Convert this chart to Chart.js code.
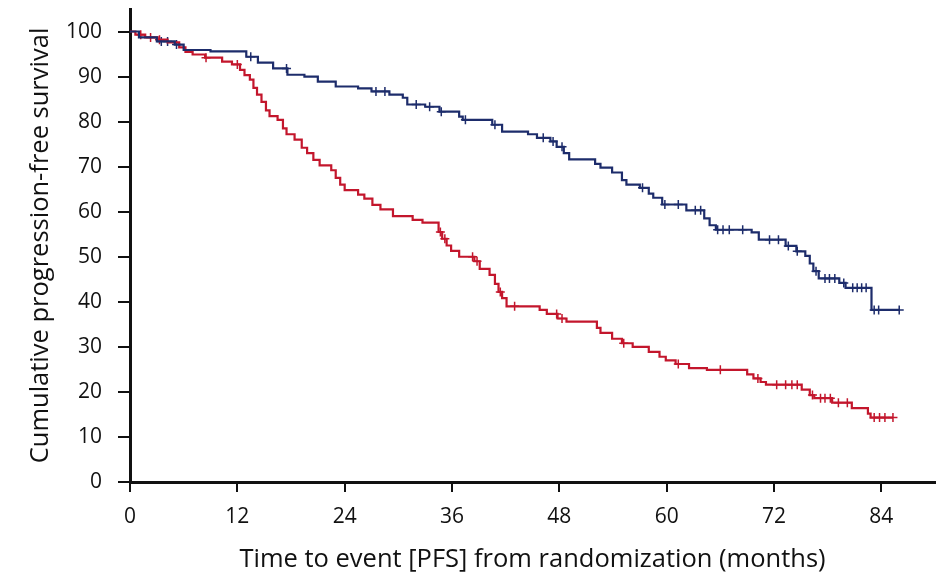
<!DOCTYPE html>
<html>
<head>
<meta charset="utf-8">
<script src="https://cdn.jsdelivr.net/npm/chart.js@4"></script>
<style>
  html, body { margin: 0; padding: 0; background: #fff; }
</style>
</head>
<body>
<canvas id="km" width="941" height="584"></canvas>
<script>
// Kaplan-Meier steps: time of drop (months) and survival after the drop (%)
const blueMonths = [0, 1, 3, 5, 6, 9, 13, 14.3, 16, 17.6, 19.5, 21, 23, 25.5, 27, 29, 30.5, 31, 33, 34.6, 36.8, 37.2, 40.5, 41.6, 44.5, 45.5, 47, 47.7, 48.5, 49.1, 52, 52.6, 53.9, 55, 55.5, 57, 58, 58.5, 59.5, 62.2, 64.2, 64.8, 65.5, 69.5, 70.3, 73.3, 74.5, 75.5, 76, 76.4, 77, 79.3, 80, 82.9, 86];
const blueSurv = [100, 98.7, 97.8, 97.1, 95.9, 95.6, 94.4, 93.1, 91.8, 90.4, 90.0, 88.9, 87.8, 87.4, 86.7, 86.0, 85.3, 83.8, 83.3, 82.2, 81.1, 80.4, 79.3, 77.8, 77.2, 76.4, 75.6, 74.4, 73.0, 71.6, 70.6, 69.8, 68.7, 67.0, 66.0, 65.3, 64.0, 63.1, 61.6, 60.3, 58.5, 57.0, 56.0, 55.4, 53.8, 52.4, 51.2, 50.2, 48.5, 46.8, 45.2, 44.2, 43.1, 38.2, 38.2];

const redMonths = [0, 0.6, 1.7, 3.1, 4.2, 5.5, 6.2, 7, 8.4, 10.3, 11.4, 12.3, 12.8, 13.4, 13.8, 14.2, 14.7, 15.2, 15.6, 16.5, 17.1, 17.5, 18.4, 19.2, 19.8, 20.5, 21.2, 22.5, 23, 23.5, 24, 25.5, 26.2, 27.1, 28, 29.4, 31.6, 32.7, 34.5, 34.9, 35.4, 35.9, 36.8, 38.5, 39.1, 40.2, 40.8, 41.2, 41.6, 42.1, 45.8, 46.6, 47.8, 48.8, 52.2, 52.6, 53.9, 55, 56.2, 58, 59.2, 59.9, 61, 62.5, 64.5, 69, 69.7, 70.5, 71.1, 75.1, 76, 76.5, 78.5, 80.7, 82.5, 82.8, 85.3];
const redSurv = [100, 99.3, 98.7, 98.2, 97.6, 96.5, 95.5, 94.9, 94.2, 93.3, 92.7, 91.5, 90.3, 89.3, 87.5, 86.0, 84.4, 82.5, 81.2, 80.4, 78.5, 77.2, 76.0, 74.2, 73.0, 71.5, 70.3, 69.2, 67.5, 66.0, 64.8, 63.8, 62.9, 61.5, 60.5, 59.0, 58.2, 57.6, 55.5, 54.0, 52.5, 51.3, 50.0, 49.0, 47.3, 46.0, 44.0, 42.2, 40.8, 39.0, 38.2, 37.3, 36.3, 35.6, 34.2, 33.1, 31.8, 30.8, 30.0, 28.9, 27.8, 27.0, 26.2, 25.3, 24.9, 23.9, 23.0, 22.2, 21.6, 20.5, 19.3, 18.6, 17.6, 16.4, 15.2, 14.3, 14.3];

// censored observations (months)
const blueCensored = [3.5, 4.2, 5.2, 13.5, 17.5, 27.5, 28.5, 32, 33.5, 34.8, 37.5, 40.8, 46.2, 47.3, 48.3, 57.3, 59.8, 61.3, 63.2, 63.8, 65.7, 66.3, 67, 68.5, 71.5, 72.5, 73.6, 74.6, 76.7, 77.7, 78.2, 78.8, 79.8, 80.8, 81.3, 81.8, 82.3, 83.2, 83.7, 86];
const redCensored = [1.2, 2.3, 3.3, 8.5, 12, 34.7, 35.2, 38.3, 38.8, 41.4, 43, 47.7, 48.3, 55.2, 61.3, 66, 70.2, 72.3, 73.3, 74, 74.6, 76.3, 77.2, 77.7, 78.3, 79.2, 80.2, 83.2, 83.8, 84.4, 85.3];

const xTicks = { min: 0, max: 90, step: 12 };
const yTicks = { min: 0, max: 105, step: 10 };

const BLUE = '#1d2c6b';
const RED = '#c3162c';

function toPoints(xs, ys) {
    return xs.map((x, i) => ({ x: x, y: ys[i] }));
}

// survival level of a step curve at time t
function levelAt(xs, ys, t) {
    let v = ys[0];
    for (let i = 0; i < xs.length; i++) {
        if (xs[i] <= t) v = ys[i];
    }
    return v;
}

function censorPoints(times, xs, ys) {
    return times.map(t => ({ x: t, y: levelAt(xs, ys, t) }));
}

const FONT = "'Open Sans', 'DejaVu Sans', sans-serif";

new Chart(document.getElementById('km'), {
    type: 'line',
    data: {
        datasets: [
            {
                label: 'Blue arm',
                data: toPoints(blueMonths, blueSurv),
                borderColor: BLUE,
                borderWidth: 2.2,
                stepped: true,
                pointRadius: 0,
                fill: false
            },
            {
                label: 'Red arm',
                data: toPoints(redMonths, redSurv),
                borderColor: RED,
                borderWidth: 2.2,
                stepped: true,
                pointRadius: 0,
                fill: false
            },
            {
                label: 'Blue censored',
                data: censorPoints(blueCensored, blueMonths, blueSurv),
                showLine: false,
                pointStyle: 'cross',
                pointRadius: 4.5,
                borderColor: BLUE,
                borderWidth: 1.5
            },
            {
                label: 'Red censored',
                data: censorPoints(redCensored, redMonths, redSurv),
                showLine: false,
                pointStyle: 'cross',
                pointRadius: 4.5,
                borderColor: RED,
                borderWidth: 1.5
            }
        ]
    },
    options: {
        responsive: false,
        animation: false,
        devicePixelRatio: 1,
        layout: {
            padding: { top: 9, right: 1, left: 0, bottom: 0 }
        },
        plugins: {
            legend: { display: false },
            tooltip: { enabled: false }
        },
        scales: {
            x: {
                type: 'linear',
                min: xTicks.min,
                max: xTicks.max,
                afterFit: (scale) => {
                    scale.height = 102;
                    scale.paddingLeft = 0;
                    scale.paddingRight = 0;
                },
                border: { color: '#111', width: 3 },
                grid: {
                    drawOnChartArea: false,
                    drawTicks: true,
                    tickLength: 10,
                    color: '#111',
                    lineWidth: 2
                },
                ticks: {
                    stepSize: xTicks.step,
                    includeBounds: false,
                    color: '#111',
                    padding: 12,
                    maxRotation: 0,
                    font: { family: FONT, size: 21 }
                },
                title: {
                    display: true,
                    text: 'Time to event [PFS] from randomization (months)',
                    color: '#111',
                    padding: { top: 0, bottom: 9 },
                    font: { family: FONT, size: 25.5 }
                }
            },
            y: {
                type: 'linear',
                min: yTicks.min,
                max: yTicks.max,
                afterFit: (scale) => {
                    scale.width = 130;
                    scale.paddingTop = 0;
                    scale.paddingBottom = 0;
                },
                border: { color: '#111', width: 3 },
                grid: {
                    drawOnChartArea: false,
                    drawTicks: true,
                    tickLength: 12,
                    color: '#111',
                    lineWidth: 2
                },
                ticks: {
                    stepSize: yTicks.step,
                    includeBounds: false,
                    color: '#111',
                    padding: 16,
                    font: { family: FONT, size: 21 }
                },
                title: {
                    display: true,
                    text: 'Cumulative progression-free survival',
                    color: '#111',
                    padding: { top: 25, bottom: 0 },
                    font: { family: FONT, size: 25.5 }
                }
            }
        }
    }
});
</script>
</body>
</html>
